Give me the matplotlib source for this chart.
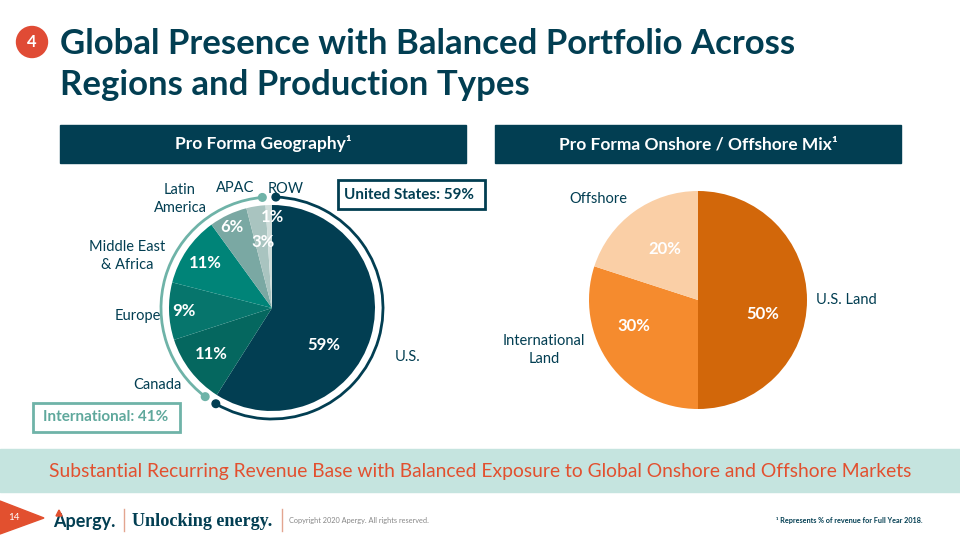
import numpy as np
import matplotlib.pyplot as plt
from matplotlib.patches import Rectangle, Arc, Circle, Polygon

geo_labels = ["U.S.", "Canada", "Europe", "Middle East\n& Africa", "Latin\nAmerica", "APAC", "ROW"]
geo_values = [59, 11, 9, 11, 6, 3, 1]
geo_colors = ["#023E52", "#05675F", "#06756C", "#008478", "#7AA8A3", "#A9C4C0", "#D0DEDB"]
mix_labels = ["U.S. Land", "International\nLand", "Offshore"]
mix_values = [50, 30, 20]
mix_colors = ["#D2670A", "#F58B2E", "#FACFA6"]
us_share = 59
intl_share = 41

navy = "#023E52"
teal = "#6FB3A8"
red = "#E2502F"
font = "Lato"
H = 540


def t(x, y, s, size, color=navy, weight="normal", ha="center", family=font):
    ax.text(x, H - y, s, fontsize=size, color=color, fontweight=weight, ha=ha, va="center",
            family=family, linespacing=1.35)


def box(x0, y0, x1, y1, **kw):
    ax.add_patch(Rectangle((x0, H - y1), x1 - x0, y1 - y0, **kw))


fig = plt.figure(figsize=(9.6, 5.4), dpi=100)
ax = fig.add_axes([0, 0, 1, 1])

ax.pie(geo_values, colors=geo_colors, startangle=90, counterclock=False, center=(272, H - 308), radius=103,
       frame=True)
ax.pie(mix_values, colors=mix_colors, startangle=90, counterclock=False, center=(698, H - 300), radius=109,
       frame=True)
ax.set_xlim(0, 960)
ax.set_ylim(0, H)
ax.set_aspect("equal")
ax.axis("off")

# title block
ax.add_patch(Circle((32, H - 42), 15.5, color="#E04B35"))
t(32, 42, "4", 12, "white", "bold")
t(60, 44, "Global Presence with Balanced Portfolio Across", 25, weight="bold", ha="left")
t(60, 85, "Regions and Production Types", 25, weight="bold", ha="left")

box(60, 125, 466, 163, color=navy)
box(495, 125, 901, 163, color=navy)
t(263, 144, "Pro Forma Geography¹", 12.5, "white", "bold")
t(698, 144, "Pro Forma Onshore / Offshore Mix¹", 12.5, "white", "bold")

# arcs round the left pie, split by US / international share
cx, cy, R = 272, H - 308, 111
dark_start = 88
dark_end = 90 - us_share * 3.6 + 2
teal_start = 95
teal_end = 90 + intl_share * 3.6 - 4.6
ax.add_patch(Arc((cx, cy), 2 * R, 2 * R, theta1=dark_end, theta2=dark_start, color=navy, lw=2))
ax.add_patch(Arc((cx, cy), 2 * R, 2 * R, theta1=teal_start, theta2=teal_end, color=teal, lw=2))
for ang, c in [(dark_start, navy), (dark_end, navy), (teal_start, teal), (teal_end, teal)]:
    ax.add_patch(Circle((cx + R * np.cos(np.radians(ang)), cy + R * np.sin(np.radians(ang))), 3.8, color=c, zorder=3))

# value labels
geo_pos = [(324, 345), (211, 354), (184, 311), (205, 263), (232, 227), (263, 242), (272, 217)]
for v, (x, y) in zip(geo_values, geo_pos):
    t(x, y, f"{v}%", 12, "white", "bold")
mix_pos = [(763, 314), (634, 326), (665, 249)]
for v, (x, y) in zip(mix_values, mix_pos):
    t(x, y, f"{v}%", 12, "white", "bold")

# category labels
geo_label_pos = [(408, 357), (157, 385), (138, 316), (127, 256), (180, 199), (235, 188), (286, 189)]
for s, (x, y) in zip(geo_labels, geo_label_pos):
    t(x, y, s, 10.5)
mix_label_pos = [(846, 300), (544, 350), (598, 199)]
for s, (x, y) in zip(mix_labels, mix_label_pos):
    t(x, y, s, 10.5)

box(338, 180, 485, 209, fc="white", ec=navy, lw=2)
t(409, 195, f"United States: {us_share}%", 11, weight="bold")
box(33, 403, 180, 432, fc="white", ec=teal, lw=2)
t(106, 417, f"International: {intl_share}%", 11, color="#5FA89C", weight="bold")

# banner
box(0, 449, 960, 492, color="#C5E4DF")
t(480, 472, "Substantial Recurring Revenue Base with Balanced Exposure to Global Onshore and Offshore Markets",
  13.85, color=red)

# footer
ax.add_patch(Polygon([(0, H - 501), (44, H - 518), (0, H - 534)], color=red))
t(14, 517, "14", 7, "white")
t(53, 521, "Apergy.", 13, weight="bold", ha="left")
ax.add_patch(Polygon([(56, H - 516), (59, H - 510), (62, H - 516)], color=red, zorder=3))
t(132, 521, "Unlocking energy.", 13.1, weight="bold", ha="left", family="Liberation Serif")
ax.plot([124, 124], [H - 509, H - 531], color="#E3A590", lw=1)
ax.plot([282, 282], [H - 509, H - 531], color="#E3A590", lw=1)
t(289, 521, "Copyright 2020 Apergy. All rights reserved.", 5.3, color="#888888", ha="left")
t(776, 521, "¹ Represents % of revenue for Full Year 2018.", 5.2, weight="bold", ha="left")

fig.savefig("out.png", dpi=100)
